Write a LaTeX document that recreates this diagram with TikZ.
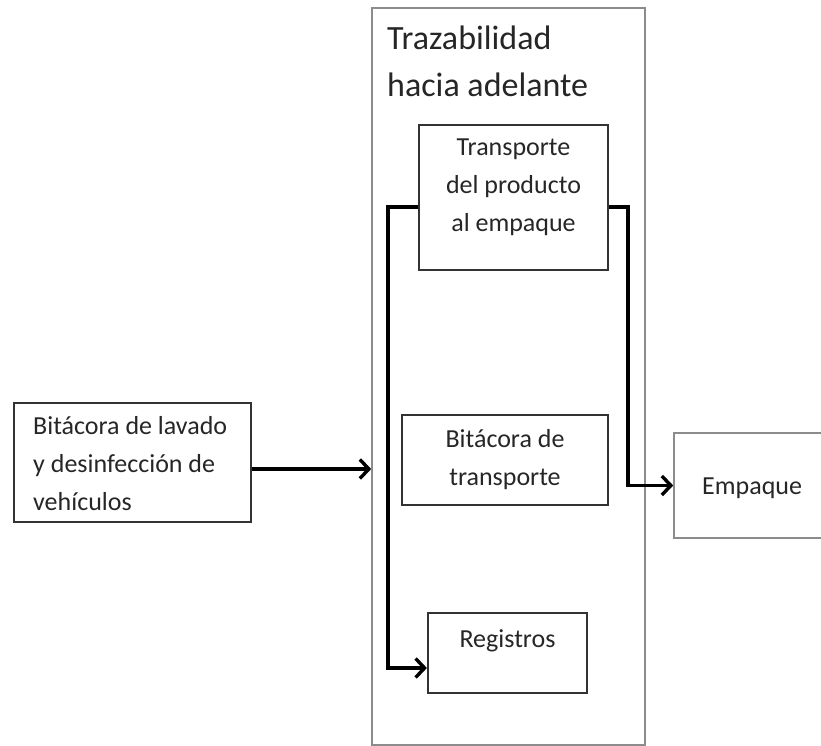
\documentclass[tikz,border=0pt]{standalone}
\usepackage{fontspec}
\setmainfont{Carlito}
\usetikzlibrary{arrows.meta}

\begin{document}
\begin{tikzpicture}[x=1pt,y=-1pt,
	>={Straight Barb[length=9pt,width=19pt]},
	box/.style={draw=black!80,line width=2.2pt,inner sep=0pt},
	graybox/.style={draw=black!45,line width=1.6pt,inner sep=0pt},
	txt/.style={inner sep=0pt,text=black!85,font=\fontsize{26}{38}\selectfont},
	flow/.style={->,line width=3.4pt,black}]
	\useasboundingbox (0,0) rectangle (821,746);
	\clip (0,0) rectangle (821,746);

	% outer frame
	\node[graybox,minimum width=273pt,minimum height=737pt] (traz) at (508.5,376.5) {};
	\node[txt,anchor=north west,align=left,font=\fontsize{34}{47}\selectfont] (tit) at (387,26) {Trazabilidad\\hacia adelante};

	\node[box,minimum width=189pt,minimum height=145pt] (tra) at (513.5,197.5) {};
	\node[txt,anchor=north,align=center] (tratxt) at (513.5,139) {Transporte\\del producto\\al empaque};

	\node[box,minimum width=206pt,minimum height=90pt] (bit) at (505,460) {};
	\node[txt,align=center] (bittxt) at (505,460) {Bitácora de\\transporte};

	\node[box,minimum width=159pt,minimum height=80pt] (reg) at (507.5,653) {};
	\node[txt,anchor=north] (regtxt) at (507.5,629) {Registros};

	\node[graybox,minimum width=160pt,minimum height=105pt] (emp) at (754,485.5) {};
	\node[txt,anchor=base west] (emptxt) at (702,494) {Empaque};

	\node[box,minimum width=237pt,minimum height=119pt] (lav) at (132.5,462.5) {};
	\node[txt,anchor=north west,align=left] (lavtxt) at (33,416) {Bitácora de lavado\\y desinfección de\\vehículos};

	% arrows
	\draw[flow] ([yshift=-6.5pt]lav.east) -- ([yshift=-6.5pt]lav.east -| traz.west);
	\draw[flow] ([yshift=-9.5pt]tra.west) -- ++(-30,0) |- ([yshift=-15pt]reg.west);
	\draw[flow] ([yshift=-9.5pt]tra.east) -- ++(19,0) |- (emp.west);
\end{tikzpicture}
\end{document}
